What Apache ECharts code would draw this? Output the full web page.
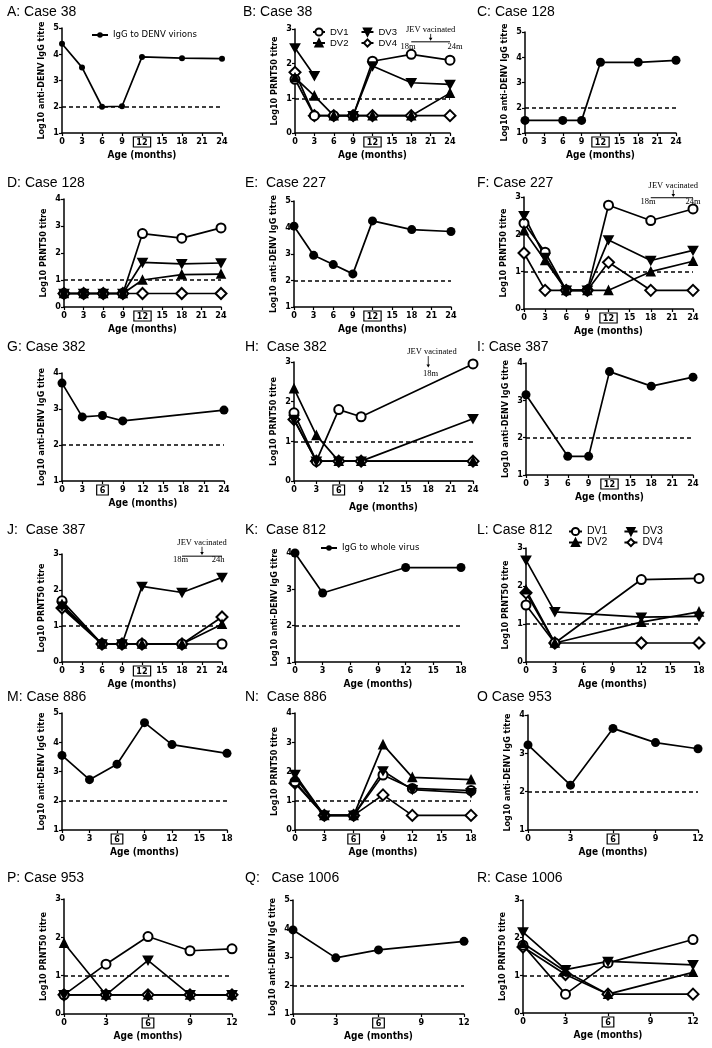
<!DOCTYPE html>
<html><head><meta charset="utf-8">
<script src="https://cdn.jsdelivr.net/npm/echarts@6/dist/echarts.min.js"></script>
<style>html,body{margin:0;padding:0;background:#fff}#c{width:712px;height:1048px}</style>
</head><body><div id="c"></div>
<script>
// ---------- DATA ----------
const monthsA = [0,3,6,9,12,18,24];
const iggA = [4.4,3.5,2.0,2.02,3.9,3.85,3.83];

const monthsB = [0,3,6,9,12,18,24];
const dv1B = [1.55,0.5,0.5,0.5,2.07,2.27,2.1];
const dv2B = [1.6,1.07,0.5,0.5,0.5,0.5,1.15];
const dv3B = [2.45,1.65,null,0.5,1.93,1.45,1.4];
const dv4B = [1.75,0.5,0.5,0.5,0.5,0.5,0.5];

const monthsC = [0,6,9,12,18,24];
const iggC = [1.5,1.5,1.5,3.8,3.8,3.88];

const monthsD = [0,3,6,9,12,18,24];
const dv1D = [0.5,0.5,0.5,0.5,2.72,2.55,2.93];
const dv2D = [0.5,0.5,0.5,0.5,1.0,1.2,1.22];
const dv3D = [0.5,0.5,0.5,0.5,1.65,1.6,1.63];
const dv4D = [0.5,0.5,0.5,0.5,0.5,0.5,0.5];

const monthsE = [0,3,6,9,12,18,24];
const iggE = [4.05,2.95,2.6,2.25,4.25,3.92,3.85];

const monthsF = [0,3,6,9,12,18,24];
const dv1F = [2.3,1.52,0.5,0.5,2.78,2.37,2.68];
const dv2F = [2.1,1.3,0.5,0.5,0.5,1.0,1.28];
const dv3F = [2.5,1.38,0.5,0.5,1.85,1.3,1.57];
const dv4F = [1.5,0.5,0.5,0.5,1.25,0.5,0.5];

const monthsG = [0,3,6,9,24];
const iggG = [3.72,2.78,2.82,2.67,2.97];

const monthsH = [0,3,6,9,24];
const dv1H = [1.72,0.5,1.8,1.62,2.95];
const dv2H = [2.33,1.15,0.5,0.5,0.5];
const dv3H = [1.55,0.5,0.5,0.5,1.57];
const dv4H = [1.55,0.5,0.5,0.5,0.5];

const monthsI = [0,6,9,12,18,24];
const iggI = [3.15,1.5,1.5,3.77,3.38,3.62];

const monthsJ = [0,6,9,12,18,24];
const dv1J = [1.7,0.5,0.5,0.5,0.5,0.5];
const dv2J = [1.6,0.5,0.5,0.5,0.5,1.05];
const dv3J = [1.55,0.5,0.5,2.1,1.93,2.35];
const dv4J = [1.5,0.5,0.5,0.5,0.5,1.25];

const monthsK = [0,3,12,18];
const iggK = [4.0,2.9,3.6,3.6];

const monthsL = [0,3,12,18];
const dv1L = [1.5,0.5,2.17,2.2];
const dv2L = [1.9,0.5,1.05,1.32];
const dv3L = [2.68,1.32,1.18,1.2];
const dv4L = [1.82,0.5,0.5,0.5];

const monthsM = [0,3,6,9,12,18];
const iggM = [3.55,2.72,3.25,4.67,3.92,3.62];

const monthsN = [0,3,6,9,12,18];
const dv1N = [1.65,0.5,0.5,1.88,1.42,1.35];
const dv2N = [1.8,0.5,0.5,2.92,1.8,1.72];
const dv3N = [1.9,0.5,0.5,2.02,1.38,1.27];
const dv4N = [1.6,0.5,0.5,1.2,0.5,0.5];

const monthsO = [0,3,6,9,12];
const iggO = [3.22,2.17,3.65,3.28,3.12];

const monthsP = [0,3,6,9,12];
const dv1P = [0.5,1.3,2.02,1.65,1.7];
const dv2P = [1.85,0.5,0.5,0.5,0.5];
const dv3P = [0.5,0.5,1.4,0.5,0.5];
const dv4P = [0.5,0.5,0.5,0.5,0.5];

const monthsQ = [0,3,6,12];
const iggQ = [3.95,2.97,3.25,3.55];

const monthsR = [0,3,6,12];
const dv1R = [1.8,0.5,1.33,1.95];
const dv2R = [1.85,1.1,0.5,1.08];
const dv3R = [2.15,1.15,1.37,1.28];
const dv4R = [1.75,1.02,0.5,0.5];

const iggName = 'Log10 anti-DENV IgG titre';
const prntName = 'Log10 PRNT50 titre';
const xName = 'Age (months)';

// panel definitions (values / axis ranges)
const panels = [
 {id:'A', title:'A: Case 38', m:monthsA, igg:iggA, xMax:24, y:[1,5], cut:2, box:12, legend:'IgG to DENV virions'},
 {id:'B', title:'B: Case 38', m:monthsB, dv:[dv1B,dv2B,dv3B,dv4B], xMax:24, y:[0,3], cut:1, box:12},
 {id:'C', title:'C: Case 128', m:monthsC, igg:iggC, xMax:24, y:[1,5], cut:2, box:12},
 {id:'D', title:'D: Case 128', m:monthsD, dv:[dv1D,dv2D,dv3D,dv4D], xMax:24, y:[0,4], cut:1, box:12},
 {id:'E', title:'E:  Case 227', m:monthsE, igg:iggE, xMax:24, y:[1,5], cut:2, box:12},
 {id:'F', title:'F: Case 227', m:monthsF, dv:[dv1F,dv2F,dv3F,dv4F], xMax:24, y:[0,3], cut:1, box:12},
 {id:'G', title:'G: Case 382', m:monthsG, igg:iggG, xMax:24, y:[1,4], cut:2, box:6},
 {id:'H', title:'H:  Case 382', m:monthsH, dv:[dv1H,dv2H,dv3H,dv4H], xMax:24, y:[0,3], cut:1, box:6},
 {id:'I', title:'I: Case 387', m:monthsI, igg:iggI, xMax:24, y:[1,4], cut:2, box:12},
 {id:'J', title:'J:  Case 387', m:monthsJ, dv:[dv1J,dv2J,dv3J,dv4J], xMax:24, y:[0,3], cut:1, box:12},
 {id:'K', title:'K:  Case 812', m:monthsK, igg:iggK, xMax:18, y:[1,4], cut:2, box:null, legend:'IgG to whole virus'},
 {id:'L', title:'L: Case 812', m:monthsL, dv:[dv1L,dv2L,dv3L,dv4L], xMax:18, y:[0,3], cut:1, box:null},
 {id:'M', title:'M: Case 886', m:monthsM, igg:iggM, xMax:18, y:[1,5], cut:2, box:6},
 {id:'N', title:'N:  Case 886', m:monthsN, dv:[dv1N,dv2N,dv3N,dv4N], xMax:18, y:[0,4], cut:1, box:6},
 {id:'O', title:'O Case 953', m:monthsO, igg:iggO, xMax:12, y:[1,4], cut:2, box:6},
 {id:'P', title:'P: Case 953', m:monthsP, dv:[dv1P,dv2P,dv3P,dv4P], xMax:12, y:[0,3], cut:1, box:6},
 {id:'Q', title:'Q:   Case 1006', m:monthsQ, igg:iggQ, xMax:12, y:[1,5], cut:2, box:6},
 {id:'R', title:'R: Case 1006', m:monthsR, dv:[dv1R,dv2R,dv3R,dv4R], xMax:12, y:[0,3], cut:1, box:6}
];

// ---------- LAYOUT (pixels) ----------
const layout = {
 A:[62,28,160,105], B:[295,29,155,104], C:[525,32,151,101],
 D:[64,199,157,108], E:[294,201,157,106], F:[524,197,169,112],
 G:[62,373,162,108], H:[294,362,179,119], I:[526,363,167,112],
 J:[62,554,160,108], K:[295,553,166,109], L:[526,548,173,114],
 M:[62,713,165,117], N:[295,713,176,117], O:[528,715,170,115],
 P:[64,899,168,115], Q:[293,900,171,114], R:[523,900,170,113]
};
const titlePos = {
 A:[7,13],B:[243,13],C:[477,13],D:[7,184],E:[245,184],F:[477,184],
 G:[7,348],H:[245,348],I:[477,348],J:[7,531],K:[245,531],L:[477,531],
 M:[7,698],N:[245,698],O:[477,698],P:[7,879],Q:[245,879],R:[477,879]
};
const xNameGap = {H:21};

const NARROW = "'Liberation Sans Narrow','Arial Narrow','DejaVu Sans Condensed',sans-serif";
const SANS = "'Liberation Sans',Arial,sans-serif";
const SERIF = "'Liberation Serif','Times New Roman',serif";
const BLACK = '#000';

const dvNames = ['DV1','DV2','DV3','DV4'];
const dvSymbols = ['emptyCircle','triangle','path://M0,0L10,0L5,9Z','emptyDiamond'];
const dvSizes = [9,8,[9,8],11];
// draw order: DV4 under the others so overlapping markers look solid
const drawOrder = [3,0,1,2];

const zip = (m, v) => m.map((x,i) => [x, v[i]]);

const grids=[], xAxes=[], yAxes=[], series=[], titles=[], legends=[];
panels.forEach((p, gi) => {
  const L = layout[p.id];
  grids.push({left:L[0], top:L[1], width:L[2], height:L[3], containLabel:false});
  const box = p.box;
  xAxes.push({
    gridIndex:gi, type:'value', min:0, max:p.xMax, interval:3,
    axisLine:{show:true, onZero:false, lineStyle:{color:BLACK, width:1.5}},
    axisTick:{show:true, length:3, lineStyle:{color:BLACK, width:1.2}},
    splitLine:{show:false},
    axisLabel:{color:BLACK, fontSize:9, fontWeight:'bold', fontFamily:NARROW, margin:4,
      formatter: v => (box !== null && v === box) ? '{b|' + v + '}' : String(v),
      rich:{b:{borderColor:BLACK, borderWidth:1.2, padding:[1,3,0,3], fontSize:9, fontWeight:'bold', fontFamily:NARROW, color:BLACK}}},
    name:xName, nameLocation:'middle', nameGap: xNameGap[p.id] || 17,
    nameTextStyle:{color:BLACK, fontSize:10, fontWeight:'bold', fontFamily:NARROW}
  });
  yAxes.push({
    gridIndex:gi, type:'value', min:p.y[0], max:p.y[1], interval:1,
    axisLine:{show:true, onZero:false, lineStyle:{color:BLACK, width:1.5}},
    axisTick:{show:true, length:3, lineStyle:{color:BLACK, width:1.2}},
    splitLine:{show:false},
    axisLabel:{color:BLACK, fontSize:9, fontWeight:'bold', fontFamily:NARROW, margin:3},
    name: p.igg ? iggName : prntName, nameLocation:'middle', nameGap:16,
    nameTextStyle:{color:BLACK, fontSize:9, fontWeight:'bold', fontFamily:NARROW}
  });
  const T = titlePos[p.id];
  titles.push({text:p.title, left:T[0], top:T[1]-8, padding:0,
    textStyle:{fontSize:14, fontWeight:'normal', fontFamily:SANS, color:BLACK}});
  const cutLine = {silent:true, symbol:'none', label:{show:false},
    lineStyle:{type:[4,3], color:BLACK, width:1.5}, data:[{yAxis:p.cut}]};
  if (p.igg) {
    series.push({
      type:'line', name: p.legend ? p.legend : ('IgG ' + p.id),
      xAxisIndex:gi, yAxisIndex:gi, data:zip(p.m, p.igg),
      symbol:'circle', symbolSize: p.id === 'A' ? 6 : 9, showAllSymbol:true,
      lineStyle:{color:BLACK, width:1.7}, itemStyle:{color:BLACK},
      markLine:cutLine, animation:false
    });
  } else {
    drawOrder.forEach((k, j) => {
      series.push({
        type:'line', name:dvNames[k], xAxisIndex:gi, yAxisIndex:gi,
        data:zip(p.m, p.dv[k]), connectNulls:false,
        symbol:dvSymbols[k], symbolSize:dvSizes[k], showAllSymbol:true,
        lineStyle:{color:BLACK, width:1.7},
        itemStyle:{color:BLACK, borderColor:BLACK, borderWidth:1.6},
        markLine: j === 0 ? cutLine : undefined, animation:false
      });
    });
  }
});

// legends
const legText = {color:BLACK, fontSize:9.5, fontFamily:SANS};
legends.push({data:['IgG to DENV virions'], left:91, top:30, padding:0, itemWidth:16, itemHeight:7, textStyle:{...legText, fontFamily:NARROW, fontSize:9.5}});
legends.push({data:['IgG to whole virus'], left:320, top:543, padding:0, itemWidth:16, itemHeight:7, textStyle:{...legText, fontFamily:NARROW, fontSize:9.5}});
legends.push({data:['DV1','DV3'], left:312, top:27, padding:0, itemGap:12, itemWidth:12, itemHeight:9, textStyle:legText});
legends.push({data:['DV2','DV4'], left:312, top:38, padding:0, itemGap:12, itemWidth:12, itemHeight:9, textStyle:legText});
legends.push({data:['DV1','DV3'], left:568, top:526, padding:0, itemGap:16, itemWidth:13, itemHeight:9, textStyle:{...legText, fontSize:10.5}});
legends.push({data:['DV2','DV4'], left:568, top:537, padding:0, itemGap:16, itemWidth:13, itemHeight:9, textStyle:{...legText, fontSize:10.5}});

const chart = echarts.init(document.getElementById('c'), null, {renderer:'canvas'});
chart.setOption({
  backgroundColor:'#fff', animation:false,
  title:titles, grid:grids, xAxis:xAxes, yAxis:yAxes, legend:legends, series:series
});

// JEV vaccination annotations (data coordinates)
const notes = [
 {id:'B', text:[21,2.97], bar:[18,24,2.63], arrow:[21,2.86,2.66], labels:[['18m',17.5,2.5],['24m',24.8,2.5]]},
 {id:'F', text:[21.2,3.3], bar:[18,24,2.98], arrow:[21.2,3.19,3.0], labels:[['18m',17.6,2.88],['24m',24,2.88]]},
 {id:'H', text:[18.5,3.25], bar:null, arrow:[18,3.15,2.86], labels:[['18m',18.3,2.7]]},
 {id:'J', text:[21,3.3], bar:[18,24,2.94], arrow:[21,3.2,2.97], labels:[['18m',17.8,2.83],['24h',23.4,2.83]]}
];
const gfx = [];
notes.forEach(n => {
  const gi = panels.findIndex(p => p.id === n.id);
  const px = (x,y) => chart.convertToPixel({gridIndex:gi}, [x,y]);
  const t = px(n.text[0], n.text[1]);
  gfx.push({type:'text', x:t[0], y:t[1], style:{text:'JEV vacinated', font:'8.5px ' + SERIF, fill:BLACK, align:'center', verticalAlign:'middle'}});
  if (n.bar) {
    const a = px(n.bar[0], n.bar[2]), b = px(n.bar[1], n.bar[2]);
    gfx.push({type:'line', shape:{x1:a[0], y1:a[1], x2:b[0], y2:b[1]}, style:{stroke:BLACK, lineWidth:1}});
  }
  const s = px(n.arrow[0], n.arrow[1]), e = px(n.arrow[0], n.arrow[2]);
  gfx.push({type:'line', shape:{x1:s[0], y1:s[1], x2:e[0], y2:e[1]-2}, style:{stroke:BLACK, lineWidth:0.8}});
  gfx.push({type:'polygon', shape:{points:[[e[0]-1.8,e[1]-3],[e[0]+1.8,e[1]-3],[e[0],e[1]]]}, style:{fill:BLACK}});
  n.labels.forEach(l => {
    const q = px(l[1], l[2]);
    gfx.push({type:'text', x:q[0], y:q[1], style:{text:l[0], font:'8.5px ' + SERIF, fill:BLACK, align:'center', verticalAlign:'middle'}});
  });
});
chart.setOption({graphic:gfx});
</script></body></html>
